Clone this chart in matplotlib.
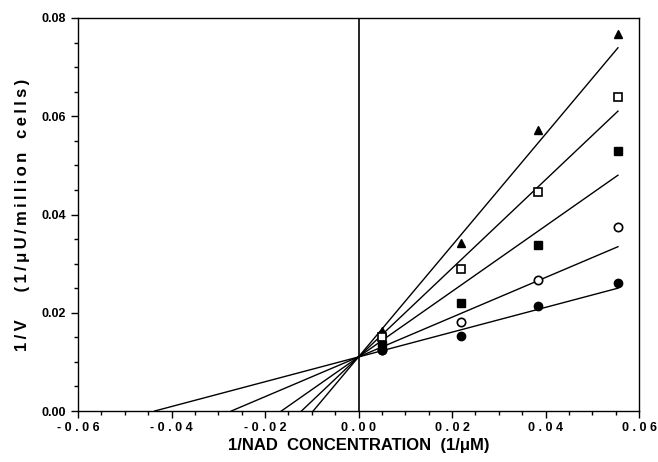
import numpy as np
import matplotlib.pyplot as plt
from matplotlib.ticker import MultipleLocator, FixedLocator, FixedFormatter

plt.rcParams['font.family'] = ['Liberation Sans', 'DejaVu Sans']
plt.rcParams['font.weight'] = 'bold'

# 1/[NAD] (1/uM)
inv_nad = [0.005, 0.022, 0.0385, 0.0555]

# 1/V values for each series
tri_filled = [0.0163, 0.0342, 0.0572, 0.0768]
sq_open = [0.0151, 0.0289, 0.0446, 0.0639]
sq_filled = [0.0134, 0.0220, 0.0338, 0.0529]
circ_open = [0.0124, 0.0181, 0.0267, 0.0375]
circ_filled = [0.0124, 0.0153, 0.0214, 0.0261]

# fitted lines: common 1/V intercept, and x-intercepts (-1/Km)
y_intercept = 0.011
x_intercepts = [-0.0097, -0.0122, -0.0165, -0.0272, -0.0436]
line_end = 0.0555

xtick_vals = [-0.06, -0.04, -0.02, 0.0, 0.02, 0.04, 0.06]
xtick_text = ['- 0 . 0 6', '- 0 . 0 4', '- 0 . 0 2', '0 . 0 0',
              '0 . 0 2', '0 . 0 4', '0 . 0 6']


def spaced(s):
    # old plotting software spread the letters out a bit
    return '\u2009'.join(s)


fig = plt.figure(figsize=(6.58, 4.62), dpi=100)
ax = fig.add_axes([78/658, 1 - 411/462, (639 - 78)/658, (411 - 18)/462])

for x0 in x_intercepts:
    slope = y_intercept / (-x0)
    xs = np.array([x0, line_end])
    ax.plot(xs, y_intercept + slope * xs, color='black', lw=1.0, zorder=2)

ax.axvline(0, color='black', lw=1.2, zorder=2)

ms = 6
ax.plot(inv_nad, tri_filled, '^', color='black', ms=ms, zorder=3)
ax.plot(inv_nad, sq_open, 's', mfc='white', mec='black', mew=1.2, ms=ms - 0.5, zorder=3)
ax.plot(inv_nad, sq_filled, 's', color='black', ms=ms - 0.5, zorder=3)
ax.plot(inv_nad, circ_open, 'o', mfc='white', mec='black', mew=1.2, ms=ms, zorder=3)
ax.plot(inv_nad, circ_filled, 'o', color='black', ms=ms, zorder=3)

ax.set_xlim(-0.06, 0.06)
ax.set_ylim(0, 0.08)

ax.xaxis.set_major_locator(FixedLocator(xtick_vals))
ax.xaxis.set_major_formatter(FixedFormatter(xtick_text))
ax.xaxis.set_minor_locator(MultipleLocator(0.005))
ax.yaxis.set_major_locator(MultipleLocator(0.02))
ax.yaxis.set_minor_locator(MultipleLocator(0.005))
ax.yaxis.set_major_formatter(plt.FormatStrFormatter('%.2f'))

ax.tick_params(which='major', direction='out', length=5, width=1, labelsize=9)
ax.tick_params(which='minor', direction='out', length=3, width=1)
ax.tick_params(axis='x', pad=3)

for s in ax.spines.values():
    s.set_linewidth(1.0)

ax.set_xlabel('1/NAD  CONCENTRATION  (1/\u03bcM)', fontsize=12, fontweight='bold', labelpad=3)
ax.set_ylabel(spaced('1/V') + '      ' + spaced('(1/\u03bcU/million') + '   ' + spaced('cells)'),
              fontsize=12, fontweight='bold', labelpad=8)

fig.savefig('out.png', dpi=100)
